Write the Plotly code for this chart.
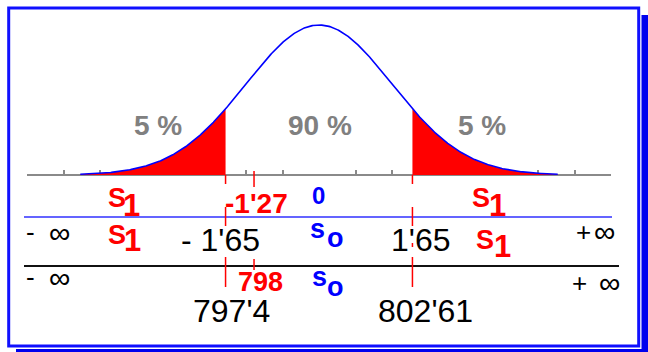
import numpy as np
import plotly.graph_objects as go

W, H = 648, 352

# ---------------- data ----------------
MEAN, SD = 0.0, 1.0
CURVE_Z_RANGE = [-3.27, 3.27]          # extent of the drawn bell curve (in sd units)
CUT_Z = [-1.28, 1.28]                  # drawn positions of the critical values
MARK_Z = -0.89                         # drawn position of the -1'27 / 798 marker
TICK_Z = [-4, -3.5, -3, -2.5, -2, -1.5, -1, -0.5, 0.5, 1, 1.5, 2, 2.5, 3, 3.5, 4]
PCT_LABELS = ["5 %", "90 %", "5 %"]
ZERO_LABEL = "0"
STAT_Z_LABEL = "-1'27"
STAT_X_LABEL = "798"
CRIT_Z_LABELS = ["- 1'65", "1'65"]
CRIT_X_LABELS = ["797'4", "802'61"]

FONT = "Liberation Sans, Arial, sans-serif"
BLUE = "#0000ff"
RED = "#ff0000"
GRAY = "#808080"


def pdf(z):
    return np.exp(-0.5 * ((z - MEAN) / SD) ** 2) / (SD * np.sqrt(2 * np.pi))


z = np.linspace(CURVE_Z_RANGE[0], CURVE_Z_RANGE[1], 600)
y = pdf(z)
peak = pdf(MEAN)

fig = go.Figure()

# red tails
for side in (-1, 1):
    if side < 0:
        m = z <= CUT_Z[0]
        zz = np.append(z[m], CUT_Z[0])
    else:
        m = z >= CUT_Z[1]
        zz = np.insert(z[m], 0, CUT_Z[1])
    fig.add_trace(go.Scatter(x=zz, y=pdf(zz), mode="lines", line=dict(width=0, color=RED),
                             fill="tozeroy", fillcolor=RED, hoverinfo="skip", showlegend=False))

# bell curve
fig.add_trace(go.Scatter(x=z, y=y, mode="lines", line=dict(color=BLUE, width=1.6),
                         hoverinfo="skip", showlegend=False))

# ---------------- layout helpers ----------------
def px(xp):
    return xp / W


def py(yp):
    return 1 - yp / H


def txt(text, xp, yp, size, color, bold=False):
    return dict(text=text, x=px(xp), y=py(yp), xref="paper", yref="paper",
                xanchor="center", yanchor="middle", showarrow=False,
                font=dict(family=FONT, size=size, color=color,
                          weight="bold" if bold else "normal"))


ann = []
for lab, xp in zip(PCT_LABELS, [157.5, 319.5, 481.5]):
    ann.append(txt(lab, xp, 126, 28, GRAY, True))
ann.append(txt(ZERO_LABEL, 318.5, 195, 24, BLUE, True))
ann.append(txt(STAT_Z_LABEL, 256.5, 203.5, 28, RED, True))
ann.append(txt(STAT_X_LABEL, 260, 282, 27, RED, True))
for lab, xp in zip(CRIT_Z_LABELS, [220, 421.5]):
    ann.append(txt(lab, xp, 240, 32, "#000000"))
for lab, xp in zip(CRIT_X_LABELS, [231.5, 425]):
    ann.append(txt(lab, xp, 311, 32, "#000000"))

# S1 labels (red)
for (sx, sy, ox, oy) in [(117, 198, 131, 205.5), (480.5, 197.5, 497, 205.5),
                         (117, 235, 132, 240.5), (485, 240, 502, 246)]:
    ann.append(txt("S", sx, sy, 27, RED, True))
    ann.append(txt("1", ox, oy, 31, RED, True))
# So labels (blue)
for (sx, sy, ox, oy) in [(317.5, 228.6, 335.5, 237.6), (319.5, 277, 335, 287)]:
    ann.append(txt("s", sx, sy, 27, BLUE, True))
    ann.append(txt("o", ox, oy, 27, BLUE, True))
# infinities
for (sym, xp, yp, sz) in [("-", 30.5, 232, 26), ("∞", 59, 232, 30),
                          ("-", 30.5, 277, 26), ("∞", 59, 277, 30),
                          ("+", 583.5, 231.5, 26), ("∞", 604, 231.5, 30),
                          ("+", 579, 282.5, 26), ("∞", 609.5, 282.5, 30)]:
    ann.append(txt(sym, xp, yp, sz, "#000000"))

shapes = []
# frame shadow
shapes.append(dict(type="rect", xref="paper", yref="paper", x0=px(641.5), x1=px(648.5),
                   y0=py(15), y1=py(352.5), fillcolor="#0000ee", line=dict(width=0), layer="below"))
shapes.append(dict(type="rect", xref="paper", yref="paper", x0=px(16), x1=px(648.5),
                   y0=py(349), y1=py(352.5), fillcolor="#0000ee", line=dict(width=0), layer="below"))
# frame
shapes.append(dict(type="rect", xref="paper", yref="paper", x0=px(8.7), x1=px(638.7),
                   y0=py(8), y1=py(346), line=dict(color="#1010ff", width=3), layer="below"))
# horizontal row separators
shapes.append(dict(type="line", xref="paper", yref="paper", x0=px(24), x1=px(612),
                   y0=py(217), y1=py(217), line=dict(color="#3030ff", width=1.6)))
shapes.append(dict(type="line", xref="paper", yref="paper", x0=px(24), x1=px(619),
                   y0=py(266), y1=py(266), line=dict(color="#111111", width=2)))
# red cut markers (dashed segments)
for cz in CUT_Z:
    for (a, b) in [(175, 184), (207, 226), (257, 287)]:
        shapes.append(dict(type="line", xref="x", yref="paper", x0=cz, x1=cz,
                           y0=py(a), y1=py(b), line=dict(color=RED, width=1.5)))
shapes.append(dict(type="line", xref="x", yref="paper", x0=CUT_Z[1], x1=CUT_Z[1],
                   y0=py(243), y1=py(247), line=dict(color=RED, width=1.5)))
for (a, b) in [(171, 187), (259, 270)]:
    shapes.append(dict(type="line", xref="x", yref="paper", x0=MARK_Z, x1=MARK_Z,
                       y0=py(a), y1=py(b), line=dict(color=RED, width=1.5)))

# y mapping: y=0 at pixel 175, peak at pixel 25; domain bottom at pixel 185
px_per_unit = 150 / peak
ydom0 = 1 - 185 / H
yr = [-(185 - 175) / px_per_unit, 175 / px_per_unit]

fig.update_layout(
    width=W, height=H, margin=dict(l=0, r=0, t=0, b=0),
    paper_bgcolor="white", plot_bgcolor="rgba(0,0,0,0)",
    showlegend=False, annotations=ann, shapes=shapes,
    xaxis=dict(domain=[27 / W, 611 / W], range=[-4, 4], anchor="free", position=1 - 175 / H,
               showline=True, linecolor="#8a8a8a", linewidth=2, ticks="inside",
               tickvals=TICK_Z, ticklen=4, tickwidth=1.5, tickcolor="#8a8a8a",
               showticklabels=False, showgrid=False, zeroline=False, layer="below traces",
               fixedrange=True),
    yaxis=dict(domain=[ydom0, 1], range=yr, visible=False, showgrid=False,
               zeroline=False, fixedrange=True),
)

fig.write_html("out.html", config={"displayModeBar": False},
               post_script="document.body.style.margin='0px';document.body.style.overflow='hidden';")
